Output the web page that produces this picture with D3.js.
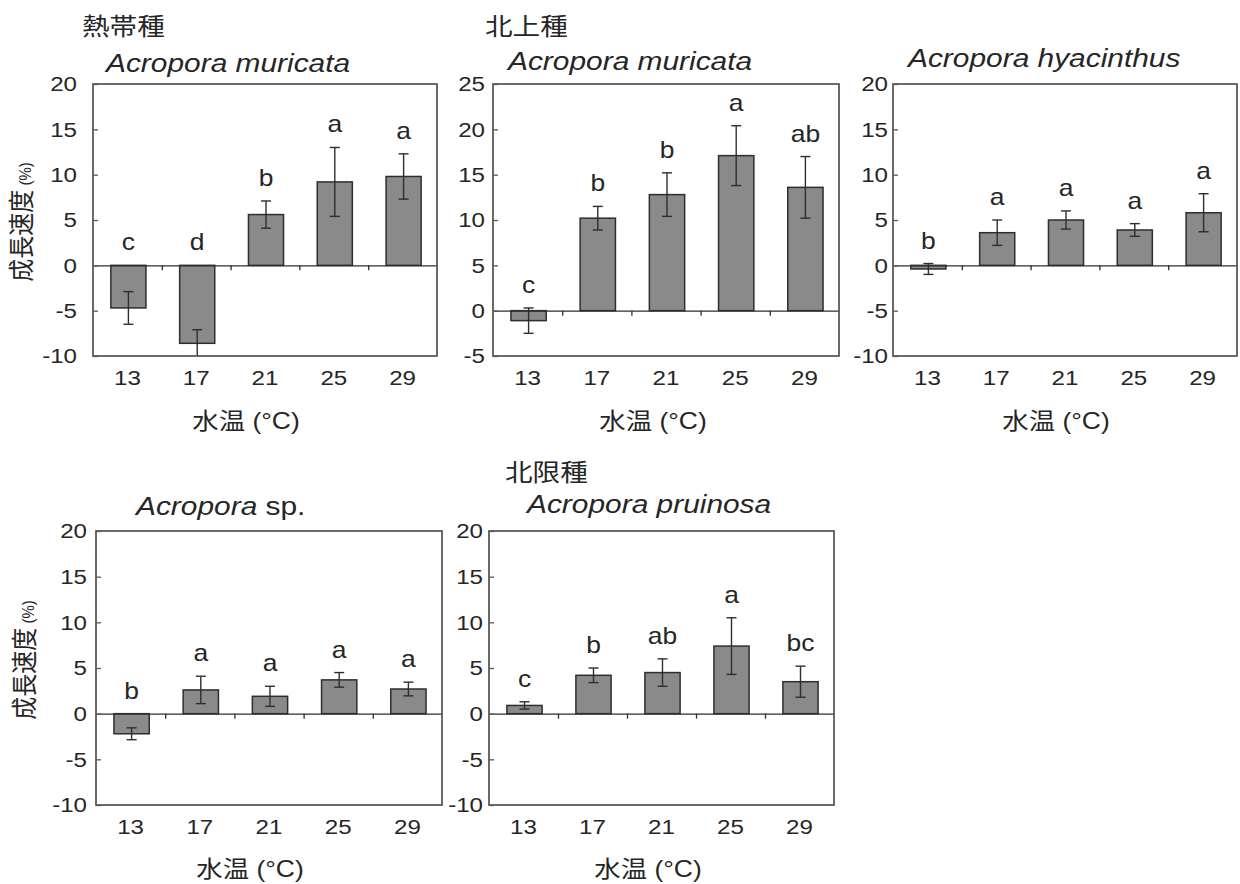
<!DOCTYPE html>
<html>
<head>
<meta charset="utf-8">
<script src="https://cdn.jsdelivr.net/npm/d3@7"></script>
<style>
  html, body { margin: 0; padding: 0; background: #fff; }
  svg { display: block; }
  text { fill: #262626; font-family: "Liberation Sans", Arial, "Noto Sans CJK JP", sans-serif; }
</style>
</head>
<body>
<svg id="chart" width="1240" height="884"></svg>
<script>
// Water temperature treatments (°C)
const temps = ["13", "17", "21", "25", "29"];

// Growth rate (%) means, error half-widths and significance letters per species
const tropicalMuricataMean = [-4.7, -8.6, 5.6, 9.2, 9.8];
const tropicalMuricataErr  = [1.8, 1.5, 1.5, 3.8, 2.5];
const tropicalMuricataSig  = ["c", "d", "b", "a", "a"];

const northMuricataMean = [-1.1, 10.2, 12.8, 17.1, 13.6];
const northMuricataErr  = [1.4, 1.3, 2.4, 3.3, 3.4];
const northMuricataSig  = ["c", "b", "b", "a", "ab"];

const hyacinthusMean = [-0.4, 3.6, 5.0, 3.9, 5.8];
const hyacinthusErr  = [0.6, 1.4, 1.0, 0.7, 2.1];
const hyacinthusSig  = ["b", "a", "a", "a", "a"];

const spMean = [-2.2, 2.6, 1.9, 3.7, 2.7];
const spErr  = [0.65, 1.5, 1.1, 0.8, 0.75];
const spSig  = ["b", "a", "a", "a", "a"];

const pruinosaMean = [0.9, 4.2, 4.5, 7.4, 3.5];
const pruinosaErr  = [0.4, 0.8, 1.5, 3.1, 1.7];
const pruinosaSig  = ["c", "b", "ab", "a", "bc"];

// Y-axis ranges and tick values
const yDomainStd = [-10, 20];
const yDomainNorth = [-5, 25];
const yTicksStd = [-10, -5, 0, 5, 10, 15, 20];
const yTicksNorth = [-5, 0, 5, 10, 15, 20, 25];

// Text labels
const groupTropical = "熱帯種";
const groupNorthward = "北上種";
const groupNorthLimit = "北限種";
const genus = "Acropora";
const xTitle = "水温 (°C)";
const yTitleMain = "成長速度";
const yTitleUnit = " (%)";

// Panel layout
const panels = [
  { mean: tropicalMuricataMean, err: tropicalMuricataErr, sig: tropicalMuricataSig,
    domain: yDomainStd, ticks: yTicksStd, species: "muricata", italicSpecies: true,
    group: groupTropical, box: [93, 84, 437, 356], labelGap: 16, yTitle: true,
    titlePos: [106, 72], groupPos: [82, 35], xTitlePos: [246, 429], yTitlePos: [22, 222] },
  { mean: northMuricataMean, err: northMuricataErr, sig: northMuricataSig,
    domain: yDomainNorth, ticks: yTicksNorth, species: "muricata", italicSpecies: true,
    group: groupNorthward, box: [493, 84, 839, 356], labelGap: 8, yTitle: false,
    titlePos: [508, 70], groupPos: [485, 35], xTitlePos: [653, 429] },
  { mean: hyacinthusMean, err: hyacinthusErr, sig: hyacinthusSig,
    domain: yDomainStd, ticks: yTicksStd, species: "hyacinthus", italicSpecies: true,
    group: null, box: [893, 84, 1237, 356], labelGap: 5, yTitle: false,
    titlePos: [908, 67], xTitlePos: [1056, 429] },
  { mean: spMean, err: spErr, sig: spSig,
    domain: yDomainStd, ticks: yTicksStd, species: "sp.", italicSpecies: false,
    group: null, box: [96, 531, 442, 805], labelGap: 9, yTitle: true,
    titlePos: [136, 515], xTitlePos: [250, 877], yTitlePos: [25, 660] },
  { mean: pruinosaMean, err: pruinosaErr, sig: pruinosaSig,
    domain: yDomainStd, ticks: yTicksStd, species: "pruinosa", italicSpecies: true,
    group: groupNorthLimit, box: [489, 531, 834, 805], labelGap: 6, yTitle: false,
    titlePos: [527, 513], groupPos: [505, 481], xTitlePos: [648, 877] }
];

// Glyphs are drawn slightly widened horizontally
const SX = 1.15;
const barFill = "#8a8a8a";
const darkLine = "#2e2e2e";
const frameColor = "#5a5a5a";

const svg = d3.select("#chart");

function stretchedText(g, x, y, str) {
  return g.append("text")
    .attr("transform", `translate(${x},${y}) scale(${SX},1)`)
    .text(str);
}

panels.forEach((p, i) => {
  const [x0, y0, x1, y1] = p.box;
  const g = svg.append("g");

  const x = d3.scaleBand().domain(temps).range([x0, x1]).paddingInner(0).paddingOuter(0);
  const y = d3.scaleLinear().domain(p.domain).range([y1, y0]);
  const bw = x.bandwidth() * 0.51;

  const rows = temps.map((t, k) => ({ t, m: p.mean[k], e: p.err[k], s: p.sig[k] }));

  const clipId = "clip" + i;
  g.append("clipPath").attr("id", clipId)
    .append("rect").attr("x", x0).attr("y", y0).attr("width", x1 - x0).attr("height", y1 - y0);

  const plot = g.append("g").attr("clip-path", `url(#${clipId})`);

  // Bars
  plot.selectAll("rect.bar").data(rows).join("rect")
    .attr("class", "bar")
    .attr("x", d => x(d.t) + x.bandwidth() / 2 - bw / 2 + 1)
    .attr("width", bw)
    .attr("y", d => y(Math.max(0, d.m)))
    .attr("height", d => Math.abs(y(d.m) - y(0)))
    .attr("fill", barFill)
    .attr("stroke", darkLine)
    .attr("stroke-width", 1.5);

  // Error bars
  const eb = plot.selectAll("g.err").data(rows).join("g").attr("class", "err")
    .attr("transform", d => `translate(${x(d.t) + x.bandwidth() / 2 + 1},0)`);
  eb.append("line")
    .attr("y1", d => y(d.m + d.e)).attr("y2", d => y(d.m - d.e))
    .attr("stroke", darkLine).attr("stroke-width", 1.4);
  eb.append("line").attr("x1", -5).attr("x2", 5)
    .attr("y1", d => y(d.m + d.e)).attr("y2", d => y(d.m + d.e))
    .attr("stroke", darkLine).attr("stroke-width", 1.4);
  eb.append("line").attr("x1", -5).attr("x2", 5)
    .attr("y1", d => y(d.m - d.e)).attr("y2", d => y(d.m - d.e))
    .attr("stroke", darkLine).attr("stroke-width", 1.4);

  // Zero line with short ticks between temperature groups
  const bounds = d3.scaleLinear().domain([0, temps.length]).range([x0, x1]);
  const zeroAxis = g.append("g").attr("transform", `translate(0,${y(0)})`)
    .call(d3.axisBottom(bounds).tickValues([1, 2, 3, 4]).tickSizeInner(5).tickSizeOuter(0).tickFormat(""));
  zeroAxis.select(".domain").attr("stroke", darkLine).attr("stroke-width", 1.3);
  zeroAxis.selectAll(".tick line").attr("stroke", darkLine).attr("stroke-width", 1.3);

  // Y axis with inward ticks
  const yAxis = g.append("g").attr("transform", `translate(${x0},0)`)
    .call(d3.axisLeft(y).tickValues(p.ticks).tickSizeInner(-5).tickSizeOuter(0)
      .tickPadding(p.labelGap / SX).tickFormat(d => String(d)));
  yAxis.select(".domain").remove();
  yAxis.selectAll(".tick line").attr("stroke", frameColor).attr("stroke-width", 1.3);
  yAxis.selectAll(".tick text")
    .attr("transform", `scale(${SX},1)`)
    .attr("font-size", 21)
    .attr("font-family", null);

  // X axis labels below the frame
  const xAxis = g.append("g").attr("transform", `translate(0,${y1})`)
    .call(d3.axisBottom(x).tickSize(0).tickPadding(14));
  xAxis.select(".domain").remove();
  xAxis.selectAll(".tick text")
    .attr("transform", `scale(${SX},1)`)
    .attr("font-size", 21)
    .attr("font-family", null);

  // Plot frame
  g.append("rect")
    .attr("x", x0).attr("y", y0).attr("width", x1 - x0).attr("height", y1 - y0)
    .attr("fill", "none").attr("stroke", frameColor).attr("stroke-width", 1.8);

  // Significance letters
  g.selectAll("text.sig").data(rows).join("text")
    .attr("class", "sig")
    .attr("text-anchor", "middle")
    .attr("font-size", 23)
    .attr("transform", d => `translate(${x(d.t) + x.bandwidth() / 2 + 1},${y(Math.max(0, d.m + d.e)) - 15}) scale(${SX},1)`)
    .text(d => d.s);

  // Species title
  const title = g.append("text")
    .attr("transform", `translate(${p.titlePos[0]},${p.titlePos[1]}) scale(${SX},1)`)
    .attr("font-size", 26);
  title.append("tspan").attr("font-style", "italic").text(genus + " ");
  title.append("tspan").attr("font-style", p.italicSpecies ? "italic" : "normal").text(p.species);

  // Group label
  if (p.group) {
    stretchedText(g, p.groupPos[0], p.groupPos[1], p.group)
      .attr("font-size", 24)
      .style("font-family", '"Noto Sans CJK JP", sans-serif');
  }

  // X axis title
  stretchedText(g, p.xTitlePos[0], p.xTitlePos[1], xTitle)
    .attr("font-size", 23)
    .attr("text-anchor", "middle");

  // Y axis title
  if (p.yTitle) {
    const yt = g.append("text")
      .attr("transform", `translate(${p.yTitlePos[0]},${p.yTitlePos[1]}) scale(${SX},1) rotate(-90)`)
      .attr("text-anchor", "middle")
      .attr("dy", "0.35em")
      .attr("font-size", 23);
    yt.append("tspan").style("font-family", '"Noto Sans CJK JP", sans-serif').text(yTitleMain);
    yt.append("tspan").attr("font-size", 15).text(yTitleUnit);
  }
});
</script>
</body>
</html>
